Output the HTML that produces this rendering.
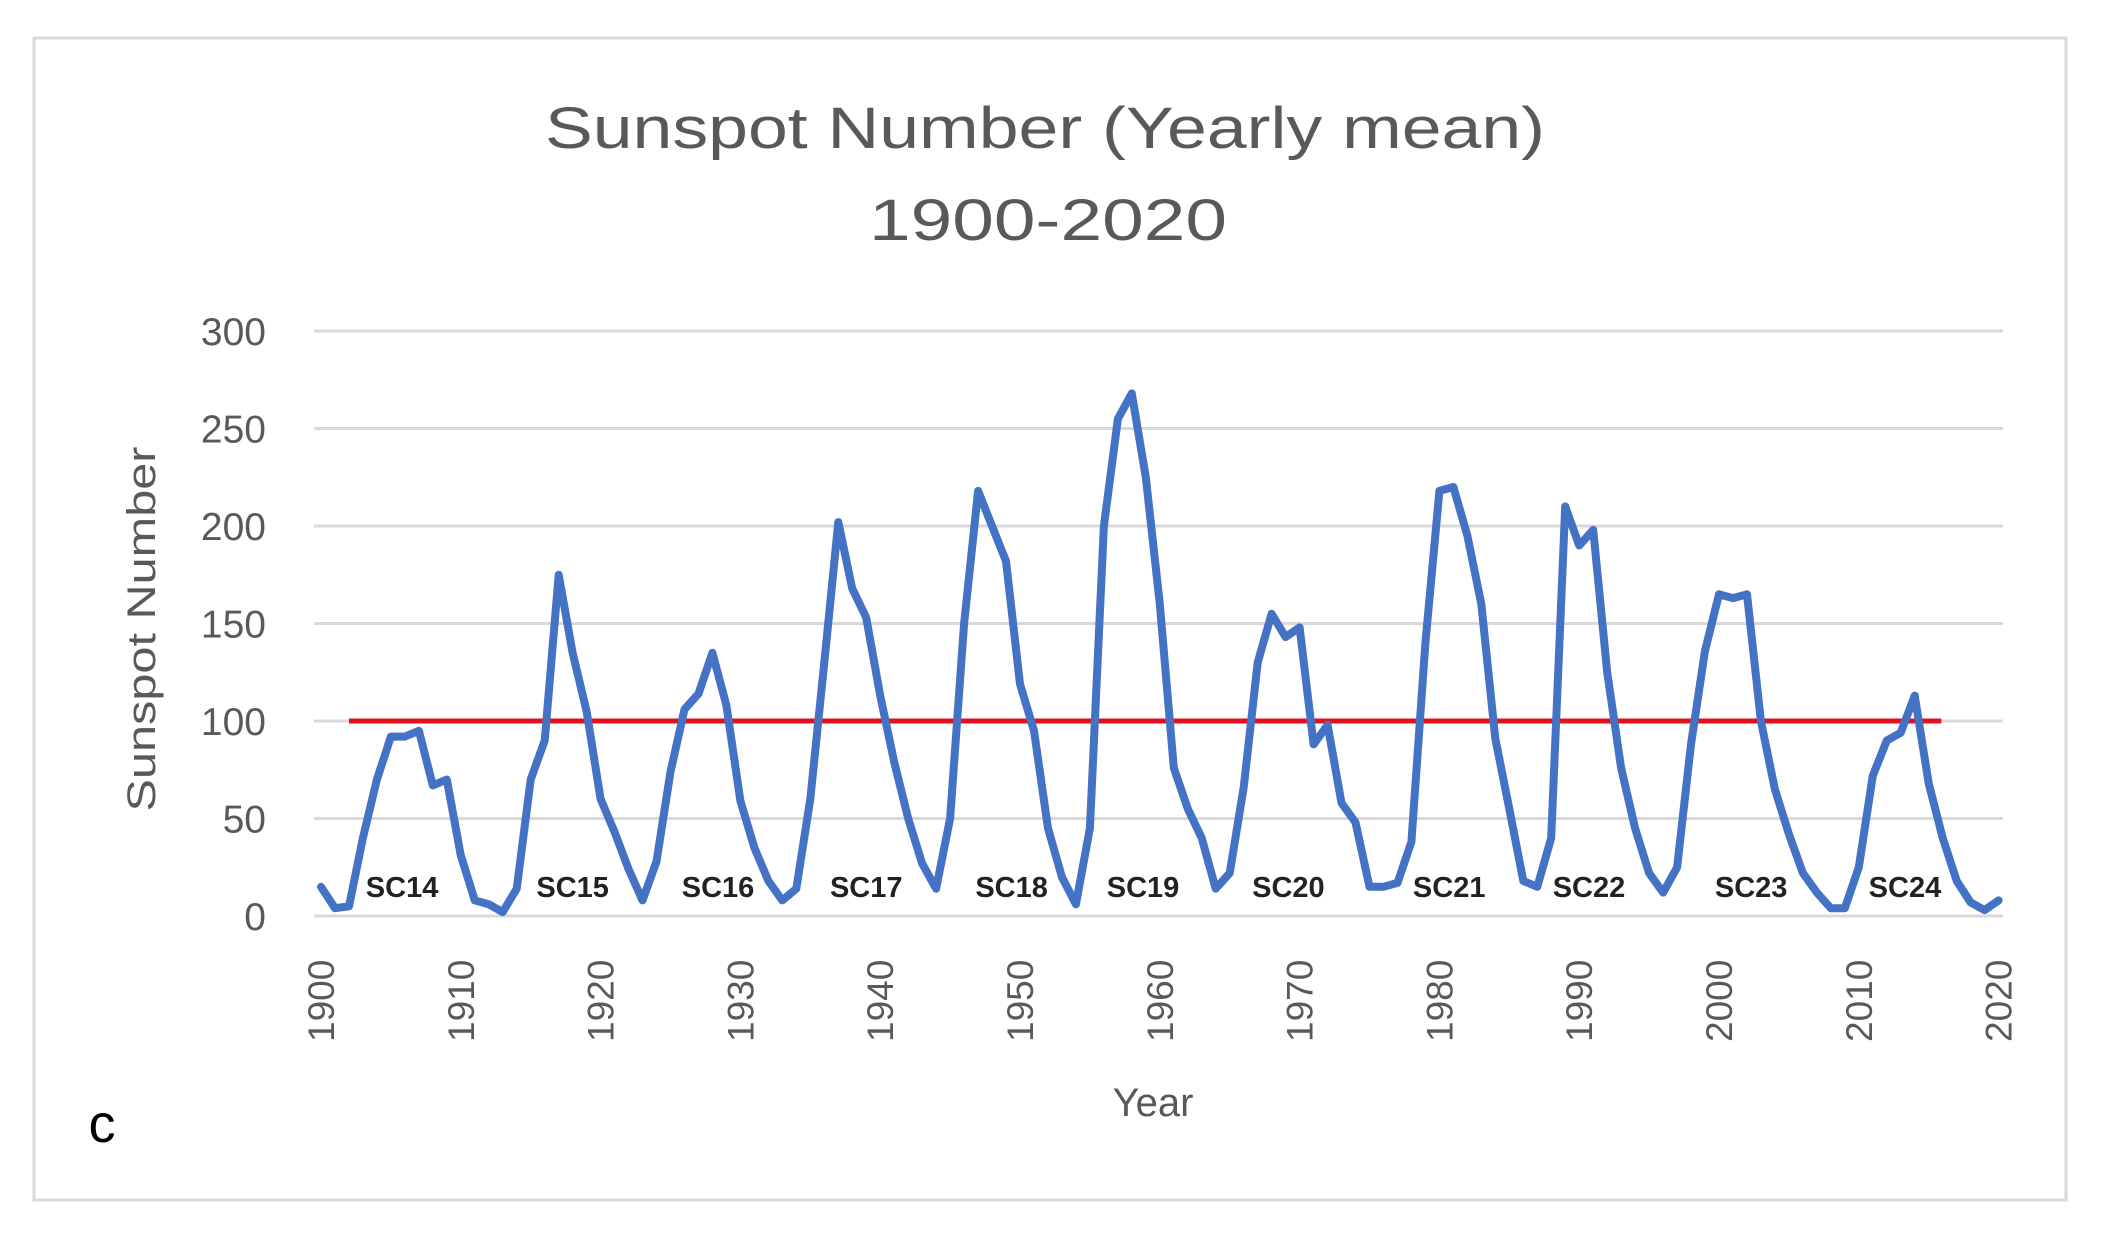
<!DOCTYPE html>
<html><head><meta charset="utf-8"><style>
html,body{margin:0;padding:0;background:#fff;}
svg{display:block;font-family:"Liberation Sans",sans-serif;}
</style></head><body>
<svg id="chart" width="2121" height="1239" viewBox="0 0 2121 1239">
<rect x="34" y="38" width="2032" height="1162" fill="#fff" stroke="#d9d9d9" stroke-width="3"/>
<text x="1045" y="148" font-size="58" fill="#595959" text-anchor="middle" textLength="1000" lengthAdjust="spacingAndGlyphs">Sunspot Number (Yearly mean)</text>
<text x="1048" y="240" font-size="58" fill="#595959" text-anchor="middle" textLength="358" lengthAdjust="spacingAndGlyphs">1900-2020</text>
<g id="grid"></g><g id="yticks"></g><g id="xticks"></g>
<text transform="translate(155,629) rotate(-90)" font-size="40" fill="#595959" text-anchor="middle" textLength="365" lengthAdjust="spacingAndGlyphs">Sunspot Number</text>
<text x="1153" y="1116" font-size="40" fill="#595959" text-anchor="middle">Year</text>
<text x="102" y="1142" font-size="54" fill="#000" text-anchor="middle">c</text>
<g id="series"></g><g id="labels"></g>
</svg>
<script>
const years=[];for(let y=1900;y<=2020;y++)years.push(y);
const sunspots=[15,4,5,40,70,92,92,95,67,70,31,8,6,2,14,70,90,175,135,105,60,43,24,8,28,74,106,114,135,108,59,35,18,8,14,60,130,202,168,153,113,79,50,27,14,50,150,218,200,182,119,95,45,20,6,45,200,255,268,225,160,76,55,40,14,22,66,130,155,143,148,88,98,58,48,15,15,17,38,140,218,220,195,160,91,55,18,15,40,210,190,198,125,76,45,22,12,25,88,136,165,163,165,100,65,42,22,12,4,4,25,72,90,94,113,68,40,18,7,3,8];
const yTicks=[0,50,100,150,200,250,300];
const xTicks=[1900,1910,1920,1930,1940,1950,1960,1970,1980,1990,2000,2010,2020];
const threshold=100, thrStart=1902, thrEnd=2015.9;
const cycleNames=["SC14","SC15","SC16","SC17","SC18","SC19","SC20","SC21","SC22","SC23","SC24"];
const cycleYears=[1905.8,1918,1928.4,1939,1949.4,1958.8,1969.2,1980.7,1990.7,2002.3,2013.3];
const NS="http://www.w3.org/2000/svg";
const X=y=>321+(y-1900)*13.98;
const Y=v=>916-v*(916-331)/300;
function mk(t,a,p){const e=document.createElementNS(NS,t);for(const k in a)e.setAttribute(k,a[k]);document.getElementById(p).appendChild(e);return e;}
yTicks.forEach(v=>{
 const l=mk('line',{x1:314,x2:2003,y1:Y(v),y2:Y(v),stroke:'#d9d9d9','stroke-width':3},'grid');
 
 
 const t=mk('text',{x:266,y:Y(v)+14,'font-size':39,fill:'#595959','text-anchor':'end'},'yticks');
 t.textContent=v;
 
 
});
xTicks.forEach(v=>{
 const t=mk('text',{transform:`translate(${X(v)+13},1042) rotate(-90)`,'font-size':37,fill:'#595959'},'xticks');
 t.textContent=v;
 
 
});
const thr=mk('line',{x1:X(thrStart),x2:X(thrEnd),y1:Y(threshold),y2:Y(threshold),stroke:'#e3101e','stroke-width':5},'series');


const pts=years.map((y,i)=>X(y).toFixed(1)+','+Y(sunspots[i]).toFixed(1)).join(' ');
const pl=mk('polyline',{points:pts,fill:'none',stroke:'#4472c4','stroke-width':8,'stroke-linejoin':'round','stroke-linecap':'round'},'series');


cycleNames.forEach((n,i)=>{
 const t=mk('text',{x:X(cycleYears[i]),y:897,'font-size':29,'font-weight':'bold',fill:'#222','text-anchor':'middle'},'labels');
 t.textContent=n;
 
 
});
</script>
</body></html>
